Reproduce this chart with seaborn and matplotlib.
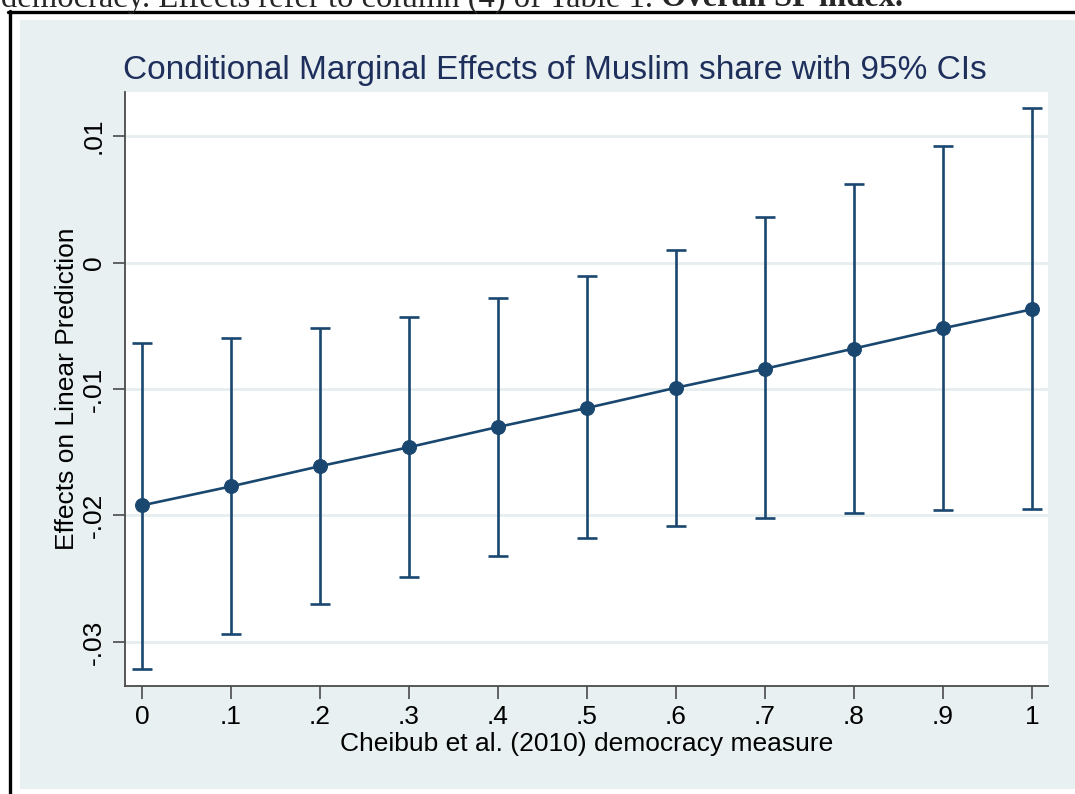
import matplotlib
matplotlib.use("Agg")
import matplotlib.pyplot as plt
from matplotlib.patches import Rectangle
from matplotlib.lines import Line2D
import numpy as np
import pandas as pd
import seaborn as sns

# democracy measure values
democracy = [0.0, 0.1, 0.2, 0.3, 0.4, 0.5, 0.6, 0.7, 0.8, 0.9, 1.0]
# marginal effect of Muslim share
effect = [-0.0192, -0.0177, -0.0161, -0.0146, -0.0130, -0.0115,
          -0.0099, -0.0084, -0.0068, -0.0052, -0.0037]
ci_upper = [-0.0064, -0.0060, -0.0052, -0.0043, -0.0028, -0.0011,
            0.0010, 0.0036, 0.0062, 0.0092, 0.0122]
ci_lower = [-0.0321, -0.0294, -0.0270, -0.0249, -0.0232, -0.0218,
            -0.0208, -0.0202, -0.0198, -0.0196, -0.0195]

x_ticks = [0, 0.1, 0.2, 0.3, 0.4, 0.5, 0.6, 0.7, 0.8, 0.9, 1.0]
x_labels = ["0", ".1", ".2", ".3", ".4", ".5", ".6", ".7", ".8", ".9", "1"]
y_ticks = [-0.03, -0.02, -0.01, 0.0, 0.01]
y_labels = ["-.03", "-.02", "-.01", "0", ".01"]

NAVY = "#1a476f"
TITLE_COLOR = "#1e2f5c"
BG = "#e8f0f2"
GRID = "#e6eef0"
AXIS = "#4a4a4a"

W, H = 1075, 794


def fx(px):
    return px / W


def fy(py):
    return 1 - py / H


sns.set_theme(style="white")
plt.rcParams["font.family"] = ["Liberation Sans", "DejaVu Sans"]

fig = plt.figure(figsize=(W / 100, H / 100), dpi=100)
fig.patch.set_facecolor("white")

# graph region background and the black frame of the page
fig.add_artist(Rectangle((fx(20), fy(789)), fx(W - 20), (789 - 20) / H,
                         transform=fig.transFigure, facecolor=BG, edgecolor="none", zorder=0))
fig.add_artist(Line2D([fx(9.5), fx(9.5)], [fy(11), 0], transform=fig.transFigure,
                      color="black", linewidth=2.4))
fig.add_artist(Line2D([fx(8), 1], [fy(11.8), fy(11.8)], transform=fig.transFigure,
                      color="black", linewidth=2.4))

# cut-off caption line from the paper above the figure
cap = fig.text(fx(1), fy(6.5), "democracy. Effects refer to column (4) of Table 1. ",
               fontsize=23.5, family="Liberation Serif", va="baseline", ha="left")
fig.canvas.draw()
bb = cap.get_window_extent()
fig.text(bb.x1 / W, fy(6.5), "Overall SF index.", fontsize=23.5,
         family="Liberation Serif", weight="bold", va="baseline", ha="left")

ax = fig.add_axes([fx(125), fy(686), fx(1048 - 125), (686 - 92) / H])
ax.set_facecolor("white")

df = pd.DataFrame({"democracy": democracy, "effect": effect,
                   "lower": ci_lower, "upper": ci_upper})

ax.errorbar(df["democracy"], df["effect"],
            yerr=[df["effect"] - df["lower"], df["upper"] - df["effect"]],
            fmt="none", ecolor=NAVY, elinewidth=1.9, capsize=7, capthick=1.9, zorder=2)
sns.lineplot(data=df, x="democracy", y="effect", ax=ax, color=NAVY, linewidth=1.9,
             marker="o", markersize=10, markeredgecolor=NAVY, markerfacecolor=NAVY,
             zorder=3)

ax.set_xlim(-0.0191, 1.018)
ax.set_ylim(-0.03348, 0.01348)

ax.set_xticks(x_ticks)
ax.set_xticklabels(x_labels)
ax.set_yticks(y_ticks)
ax.set_yticklabels(y_labels, rotation=90, va="center")

ax.yaxis.grid(True, color=GRID, linewidth=2)
ax.xaxis.grid(False)
ax.set_axisbelow(True)

for side in ["top", "right"]:
    ax.spines[side].set_visible(False)
for side in ["left", "bottom"]:
    ax.spines[side].set_color(AXIS)
    ax.spines[side].set_linewidth(1.3)

ax.tick_params(axis="both", direction="out", length=9, width=1.2, color=AXIS,
               labelsize=19, labelcolor="black", left=True, bottom=True)
ax.tick_params(axis="x", pad=5)
ax.tick_params(axis="y", pad=5)

ax.set_xlabel("Cheibub et al. (2010) democracy measure", fontsize=19, color="black", labelpad=2)
ax.set_ylabel("Effects on Linear Prediction", fontsize=19, color="black", labelpad=2)

fig.text(fx(555), fy(79), "Conditional Marginal Effects of Muslim share with 95% CIs",
         fontsize=24, color=TITLE_COLOR, ha="center", va="baseline")

fig.savefig("out.png", dpi=100, facecolor="white")
